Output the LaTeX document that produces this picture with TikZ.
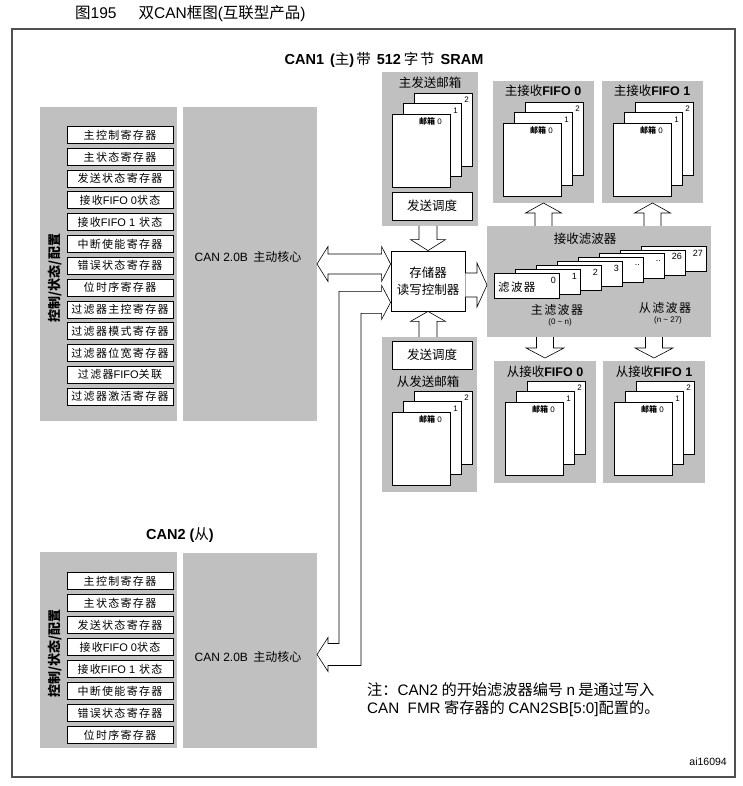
\documentclass[tikz,border=0pt]{standalone}
\usepackage{fontspec}
\setmainfont{Liberation Sans}
\newfontfamily\cjk{Noto Sans CJK SC}
\newfontfamily\cjkreg{Noto Sans CJK SC}[LetterSpace=12]
\usetikzlibrary{calc}
\definecolor{bgray}{RGB}{192,192,192}
\definecolor{framec}{RGB}{80,80,80}
\newcommand{\lat}[1]{{\rmfamily #1}}
\newcommand{\grect}[6][gblock]{\node[#1,anchor=north west,inner sep=0pt,outer sep=0pt,minimum width={(#5-#3)*1pt},minimum height={(#6-#4)*1pt}] (#2) at (#3,#4) {};}
% vertical hollow arrow: from, to, head length (canvas, signed), shaft half, head half
\newcommand{\varrow}[5]{\draw[harrow] let \p1=(#1), \p2=(#2) in
  ({\x2-#4pt},\y1) -- ({\x2-#4pt},{\y2+(#3pt)}) -- ({\x2-#5pt},{\y2+(#3pt)}) -- (\x2,\y2) -- ({\x2+#5pt},{\y2+(#3pt)}) -- ({\x2+#4pt},{\y2+(#3pt)}) -- ({\x2+#4pt},\y1);}
% horizontal hollow arrow
\newcommand{\harrowto}[5]{\draw[harrow] let \p1=(#1), \p2=(#2) in
  (\x1,{\y2+#4pt}) -- ({\x2+(#3pt)},{\y2+#4pt}) -- ({\x2+(#3pt)},{\y2+#5pt}) -- (\x2,\y2) -- ({\x2+(#3pt)},{\y2-#5pt}) -- ({\x2+(#3pt)},{\y2-#4pt}) -- (\x1,{\y2-#4pt});}
% mailbox stack: prefix, x, y of front page top-left
\newcommand{\mstack}[3]{%
  \draw[page] ({#2+22},{#3-21}) rectangle ++(58,73);
  \node[num] (#1-2) at ({#2+77},{#3-14}) {2};
  \draw[page] ({#2+11},{#3-10.5}) rectangle ++(58,73);
  \node[num] (#1-1) at ({#2+66},{#3-3.5}) {1};
  \draw[page] (#2,#3) rectangle ++(58,73);
  \node[num] (#1-0) at ({#2+50},{#3+7}) {{\cjk\bfseries 邮箱}\ 0};
}
\begin{document}
\begin{tikzpicture}[x=1pt,y=-1pt,
  font=\cjk\fontsize{12}{14}\selectfont,
  gblock/.style={fill=bgray,draw=none},
  page/.style={draw=black,fill=white,line width=0.8pt},
  regbox/.style={draw=black,fill=white,line width=0.8pt,minimum width=106pt,minimum height=17pt,inner sep=0pt,font=\cjkreg\fontsize{11}{12}\selectfont},
  box/.style={draw=black,fill=white,line width=0.8pt,inner sep=0pt},
  harrow/.style={draw=black,fill=white,line width=0.6pt,line join=miter},
  lbl/.style={inner sep=0pt},
  num/.style={inner sep=0pt,anchor=east,font=\rmfamily\fontsize{8}{9}\selectfont},
  vlabel/.style={inner sep=0pt,rotate=90,font=\cjk\bfseries\fontsize{13}{15}\selectfont},
]
\useasboundingbox (0,0) rectangle (743,786);
\fill[white] (0,0) rectangle (743,786);

% title and frame
\node[lbl,anchor=west,font=\cjk\fontsize{15.5}{17}\selectfont] (title) at (75,14) {图\lat{195}\hspace{22pt}双\lat{CAN}框图\lat{(}互联型产品\lat{)}};
\draw[framec,line width=1.2pt] (12,29) rectangle (735,777);

% CAN1
\node[lbl,font=\rmfamily\bfseries\fontsize{14.5}{16}\selectfont] (can1) at (384,60) {CAN1\hspace{6pt}({\cjkreg\mdseries 主})\hspace{2pt}{\cjkreg\mdseries 带}\hspace{6pt}512\hspace{3pt}{\cjkreg\mdseries 字节}\hspace{6pt}SRAM};
\grect{c1ctl}{40}{107}{177}{421}
\grect{c1core}{183}{107}{317}{421}
\foreach \t [count=\i from 0] in {主控制寄存器,主状态寄存器,发送状态寄存器,{接收\lat{FIFO 0}状态},{接收\lat{FIFO 1} 状态},中断使能寄存器,错误状态寄存器,位时序寄存器,过滤器主控寄存器,过滤器模式寄存器,过滤器位宽寄存器,{过滤器\lat{FIFO}关联},过滤器激活寄存器}
  \node[regbox] (r1-\i) at (120,{135+\i*21.8}) {\t};
\node[vlabel] (v1) at (55,278) {控制/状态/配置};
\node[lbl] (core1) at (248,257) {\lat{CAN 2.0B}\ \ 主动核心};

% master transmit mailboxes
\grect{mtx}{382}{72}{478}{226}
\node[lbl,font=\cjk\fontsize{12.5}{14}\selectfont] (mtxt) at (430,83) {主发送邮箱};
\mstack{mtxs}{392}{114}
\node[box,minimum width=80pt,minimum height=28pt,font=\cjk\fontsize{12.5}{14}\selectfont] (msched) at (432,206) {发送调度};

% memory controller
\node[box,minimum width=74pt,minimum height=60pt,align=center,font=\cjk\fontsize{12.5}{17}\selectfont] (ctrl) at (428,281) {存储器\\读写控制器};

% slave transmit mailboxes
\grect{stx}{382}{337}{477}{492}
\node[box,minimum width=80pt,minimum height=28pt,font=\cjk\fontsize{12.5}{14}\selectfont] (ssched) at (432,355) {发送调度};
\node[lbl,font=\cjk\fontsize{12.5}{14}\selectfont] (stxt) at (428,382) {从发送邮箱};
\mstack{stxs}{392}{412}

% master receive FIFOs
\grect{mf0}{493}{81}{594}{203}
\grect{mf1}{602}{81}{703}{203}
\node[lbl,font=\cjk\fontsize{12.5}{14}\selectfont] (mf0t) at (543,91) {主接收\lat{\bfseries FIFO 0}};
\node[lbl,font=\cjk\fontsize{12.5}{14}\selectfont] (mf1t) at (652,91) {主接收\lat{\bfseries FIFO 1}};
\mstack{mf0s}{503}{123}
\mstack{mf1s}{613}{123}

% receive filters
\grect{filt}{487}{226}{711}{337}
\node[lbl,font=\cjk\fontsize{12.5}{14}\selectfont] (filtt) at (585,239) {接收滤波器};
\foreach \k/\n in {7/27,6/26,5/..,4/..,3/3,2/2,1/1,0/0} {
  \draw[page] ({494+21*\k},{273-3.85*\k}) rectangle ++(65,25);
  \node[num,font=\rmfamily\fontsize{9}{10}\selectfont] (fn-\k) at ({494+21*\k+62},{273-3.85*\k+7}) {\n};
}
\node[lbl,anchor=west,font=\cjkreg\fontsize{11.5}{13}\selectfont] (filtf) at (498,287) {滤波器};
\node[lbl,font=\cjkreg\fontsize{12}{14}\selectfont] (mfl) at (557,310) {主滤波器};
\node[lbl,font=\rmfamily\fontsize{8}{9}\selectfont] (mfr) at (560,322) {(0 \textasciitilde\ n)};
\node[lbl,font=\cjkreg\fontsize{12}{14}\selectfont] (sfl) at (665,308) {从滤波器};
\node[lbl,font=\rmfamily\fontsize{8}{9}\selectfont] (sfr) at (668,320) {(n \textasciitilde\ 27)};

% slave receive FIFOs
\grect{sf0}{494}{361}{596}{483}
\grect{sf1}{603}{361}{705}{483}
\node[lbl,font=\cjk\fontsize{12.5}{14}\selectfont] (sf0t) at (545,372) {从接收\lat{\bfseries FIFO 0}};
\node[lbl,font=\cjk\fontsize{12.5}{14}\selectfont] (sf1t) at (654,372) {从接收\lat{\bfseries FIFO 1}};
\mstack{sf0s}{505}{402}
\mstack{sf1s}{614}{402}

% CAN2
\node[lbl,font=\rmfamily\bfseries\fontsize{14.5}{16}\selectfont] (can2) at (180,535) {CAN2\hspace{4pt}({\cjk\mdseries 从})};
\grect{c2ctl}{40}{552}{177}{748}
\grect{c2core}{183}{553}{317}{748}
\foreach \t [count=\i from 0] in {主控制寄存器,主状态寄存器,发送状态寄存器,{接收\lat{FIFO 0}状态},{接收\lat{FIFO 1} 状态},中断使能寄存器,错误状态寄存器,位时序寄存器}
  \node[regbox] (r2-\i) at (120,{581+\i*22}) {\t};
\node[vlabel] (v2) at (55,653) {控制/状态/配置};
\node[lbl] (core2) at (248,657) {\lat{CAN 2.0B}\ \ 主动核心};

% hollow arrows
\varrow{mtx.south}{ctrl.north}{11}{9}{17.5}
\varrow{stx.north}{ctrl.south}{-10}{9}{17.5}
\varrow{filt.north}{mf0.south}{-10}{8.5}{18}
\varrow{filt.north}{mf1.south}{-10}{8.5}{18}
\varrow{filt.south}{$(sf0.north)+(0,-3)$}{10}{8.5}{19}
\varrow{filt.south}{$(sf1.north)+(0,-3)$}{10}{8.5}{19}
\harrowto{ctrl.east}{$(filt.west)+(0,3.5)$}{-10}{12}{22}
% double arrow core <-> controller
\draw[harrow] let \p1=(c1core.east), \p2=(ctrl.west) in
  (\x1,\y1) -- ({\x1+11pt},{\y1+17.5pt}) -- ({\x1+11pt},{\y1+10pt}) -- ({\x2-9pt},{\y1+10pt}) -- ({\x2-9pt},{\y1+17.5pt}) -- (\x2,\y1)
  -- ({\x2-9pt},{\y1-17.5pt}) -- ({\x2-9pt},{\y1-10pt}) -- ({\x1+11pt},{\y1-10pt}) -- ({\x1+11pt},{\y1-17.5pt}) -- cycle;
% bent double arrow controller <-> CAN2 core
\draw[harrow] let \p1=($(ctrl.south west)+(0,-9)$), \p2=($(c2core.east)+(0,4)$) in
  (\x1,\y1) -- ({\x1-9pt},{\y1-17pt}) -- ({\x1-9pt},{\y1-11pt}) -- ({\x2+44pt},{\y1-11pt}) -- ({\x2+44pt},{\y2-11pt})
  -- ({\x2+11pt},{\y2-11pt}) -- ({\x2+11pt},{\y2-17pt}) -- (\x2,\y2) -- ({\x2+11pt},{\y2+17pt}) -- ({\x2+11pt},{\y2+11pt})
  -- ({\x2+22pt},{\y2+11pt}) -- ({\x2+22pt},{\y1+11pt}) -- ({\x1-9pt},{\y1+11pt}) -- ({\x1-9pt},{\y1+17pt}) -- cycle;

% note
\node[lbl,anchor=west,font=\cjk\fontsize{15.2}{17}\selectfont] (note1) at (367,690) {注：\lat{CAN2} 的开始滤波器编号 \lat{n} 是通过写入};
\node[lbl,anchor=west,font=\cjk\fontsize{15.2}{17}\selectfont] (note2) at (367,709) {\lat{CAN\ \ FMR} 寄存器的 \lat{CAN2SB[5:0]}配置的。};
\node[lbl,anchor=east,font=\rmfamily\fontsize{10.5}{12}\selectfont] (ai) at (727,762) {ai16094};
\end{tikzpicture}
\end{document}
